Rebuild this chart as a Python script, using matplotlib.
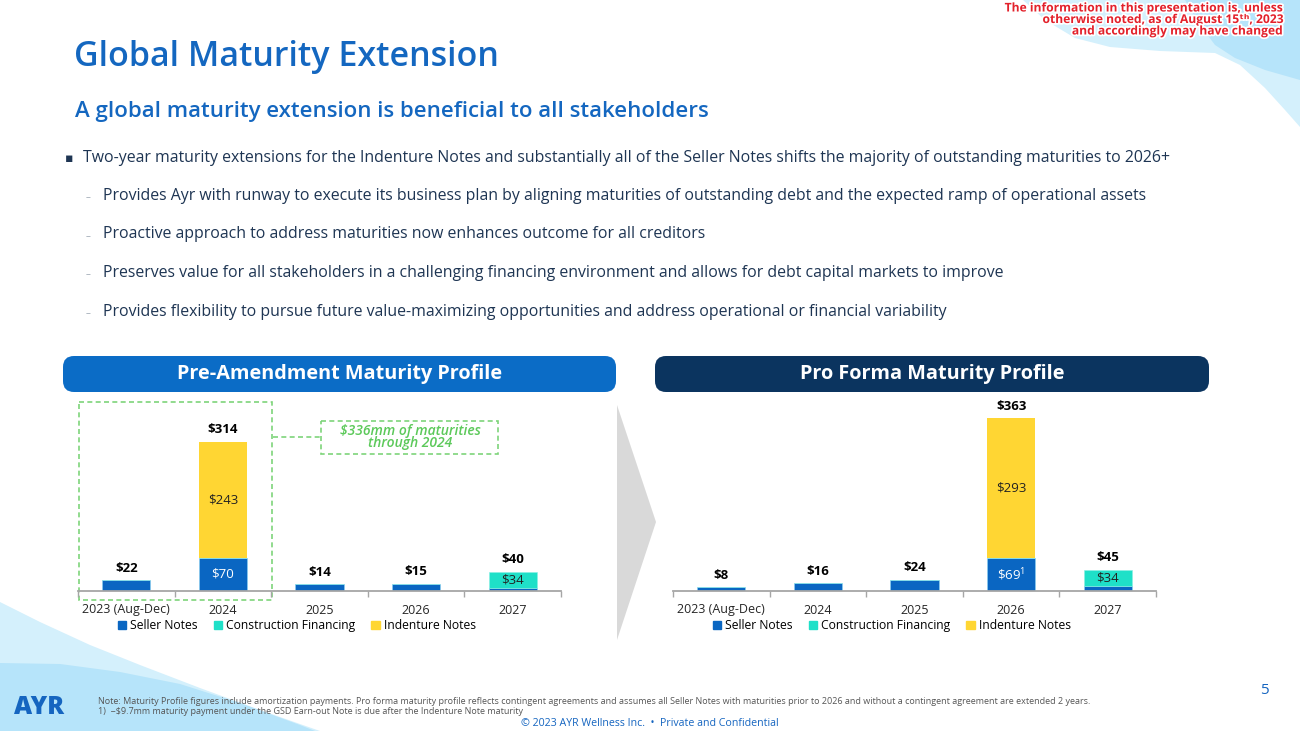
#! /usr/bin/env python3

import matplotlib
matplotlib.use("Agg")
import matplotlib.pyplot as plt
from matplotlib.patches import FancyBboxPatch, Polygon, Rectangle, Patch
import matplotlib.patheffects as pe
import numpy as np

plt.rcParams['font.family'] = ['Open Sans', 'DejaVu Sans']

# ---- data ($mm) ----
years = ['2023 (Aug-Dec)', '2024', '2025', '2026', '2027']
series_names = ['Seller Notes', 'Construction Financing', 'Indenture Notes']

pre_seller = [22, 70, 14, 15, 6]
pre_construction = [0, 0, 0, 0, 34]
pre_indenture = [0, 243, 0, 0, 0]
pre_totals = ['$22', '$314', '$14', '$15', '$40']

pf_seller = [8, 16, 24, 69, 11]
pf_construction = [0, 0, 0, 0, 34]
pf_indenture = [0, 0, 0, 293, 0]
pf_totals = ['$8', '$16', '$24', '$363', '$45']

bullets = [
    'Two-year maturity extensions for the Indenture Notes and substantially all of the Seller Notes shifts the majority of outstanding maturities to 2026+',
    'Provides Ayr with runway to execute its business plan by aligning maturities of outstanding debt and the expected ramp of operational assets',
    'Proactive approach to address maturities now enhances outcome for all creditors',
    'Preserves value for all stakeholders in a challenging financing environment and allows for debt capital markets to improve',
    'Provides flexibility to pursue future value-maximizing opportunities and address operational or financial variability',
]

BLUE = '#0A66C2'
TEAL = '#1FE0C8'
YELLOW = '#FFD633'
NAVY = '#1E3553'
TITLE_BLUE = '#1467C0'

W, H = 1300, 731
fig = plt.figure(figsize=(13, 7.31), dpi=100)
fig.patch.set_facecolor('white')

# background / decoration layer in pixel coordinates
bg = fig.add_axes([0, 0, 1, 1], zorder=0)
bg.set_xlim(0, W)
bg.set_ylim(H, 0)
bg.axis('off')

# light blue swooshes
bg.add_patch(Polygon([(1023, 0), (1045, 20), (1075, 38), (1110, 47), (1160, 51), (1215, 53),
                      (1240, 65), (1265, 88), (1285, 110), (1300, 127), (1300, 0)],
                     closed=True, facecolor='#D4F0FC', edgecolor='none'))
bg.add_patch(Polygon([(1185, 0), (1200, 25), (1215, 45), (1235, 58), (1265, 70), (1300, 80), (1300, 0)],
                     closed=True, facecolor='#B6E4FA', edgecolor='none'))
bg.add_patch(Polygon([(0, 602), (40, 622), (90, 645), (140, 665), (200, 688), (260, 710), (320, 731), (0, 731)],
                     closed=True, facecolor='#D4F0FC', edgecolor='none'))
bg.add_patch(Polygon([(0, 663), (60, 664), (120, 672), (180, 684), (240, 703), (300, 725), (315, 731), (0, 731)],
                     closed=True, facecolor='#B6E4FA', edgecolor='none'))

# top-right disclaimer
disc = ['The information in this presentation is, unless',
        'otherwise noted, as of August 15\u1d57\u02b0, 2023',
        'and accordingly may have changed']
for i, line in enumerate(disc):
    bg.text(1284, 8 + i * 11.5, line, ha='right', va='center', fontsize=8.7, fontweight='bold',
            color='#E3212B', path_effects=[pe.withStroke(linewidth=2.5, foreground='white')])

# title and subtitle
bg.text(74, 57, 'Global Maturity Extension', fontsize=24.5, color=TITLE_BLUE, va='center', ha='left',
        fontweight='semibold')
bg.text(75, 112, 'A global maturity extension is beneficial to all stakeholders', fontsize=16,
        color=TITLE_BLUE, va='center', ha='left', fontweight='semibold')

# bullets
bg.text(65, 158, '\u25aa', fontsize=9, color=NAVY, va='center', ha='left')
bg.text(83, 158, bullets[0], fontsize=11.45, color=NAVY, va='center', ha='left')
for i, b in enumerate(bullets[1:]):
    y = 196 + i * 38.5
    bg.text(86, y + 2, '\u2013', fontsize=7, color='#9AA5B1', va='center', ha='left')
    bg.text(103, y, b, fontsize=11.45, color=NAVY, va='center', ha='left')

# section headers
for x0, x1, col, txt in [(63, 616, '#0B6CC6', 'Pre-Amendment Maturity Profile'),
                         (655, 1209, '#0B345F', 'Pro Forma Maturity Profile')]:
    bg.add_patch(FancyBboxPatch((x0, 356), x1 - x0, 36,
                                boxstyle='round,pad=0,rounding_size=11',
                                facecolor=col, edgecolor='none'))
    bg.text((x0 + x1) / 2, 374, txt, ha='center', va='center', fontsize=14.3,
            fontweight='bold', color='white')

# gray chevron between the charts
bg.add_patch(Polygon([(617, 405), (656, 522), (617, 640)], closed=True,
                     facecolor='#D9D9D9', edgecolor='none'))

# dashed highlight around 2023-2024
green = '#7ED47A'
bg.add_patch(Rectangle((79, 402), 193, 198, fill=False, edgecolor=green, lw=1.2, ls=(0, (3, 2))))
bg.add_patch(Rectangle((321, 421), 177, 33, fill=False, edgecolor=green, lw=1.2, ls=(0, (3, 2))))
bg.plot([273, 321], [437, 437], color=green, lw=1.2, ls=(0, (3, 2)))
bg.text(410, 437, '$336mm of maturities\nthrough 2024', ha='center', va='center', fontsize=10,
        color='#5CC95A', style='italic', fontweight='semibold', linespacing=0.9)

# footer
bg.text(14, 707, 'AYR', fontsize=18, fontweight='heavy', color='#1565C0', va='center', ha='left')
bg.text(98, 701, 'Note: Maturity Profile figures include amortization payments. Pro forma maturity profile reflects contingent agreements and assumes all Seller Notes with maturities prior to 2026 and without a contingent agreement are extended 2 years.',
        fontsize=6.5, color='#555555', va='center', ha='left')
bg.text(98, 712, '1)  ~$9.7mm maturity payment under the GSD Earn-out Note is due after the Indenture Note maturity',
        fontsize=6.5, color='#555555', va='center', ha='left')
bg.text(650, 723, '\u00a9 2023 AYR Wellness Inc.  \u2022  Private and Confidential', fontsize=7.7,
        color='#1565C0', va='center', ha='center')
bg.text(1264, 691, '5', fontsize=11, color='#1565C0', va='center', ha='center')


def draw_chart(left_px, seller, construction, indenture, totals, inside_seller_sup=None):
    ax = fig.add_axes([left_px / W, 1 - 591 / H, 483 / W, 191 / H], zorder=2)
    ax.patch.set_alpha(0)
    x = np.arange(len(years))
    seller = np.array(seller, dtype=float)
    construction = np.array(construction, dtype=float)
    indenture = np.array(indenture, dtype=float)
    ax.bar(x, seller, width=0.5, color=BLUE, edgecolor='#8AD3F2', linewidth=0.4)
    ax.bar(x, construction, width=0.5, bottom=seller, color=TEAL, edgecolor='#8AEFE4', linewidth=0.4)
    ax.bar(x, indenture, width=0.5, bottom=seller + construction, color=YELLOW, edgecolor='none')
    top = seller + construction + indenture
    for i in x:
        ax.annotate(totals[i], (i, top[i]), xytext=(0, 4), textcoords='offset points',
                    ha='center', va='bottom', fontsize=9.5, fontweight='bold', color='black')
        if indenture[i] > 0:
            ax.text(i, seller[i] + indenture[i] / 2, '$%d' % indenture[i], ha='center', va='center',
                    fontsize=9.5, color='#222222')
            lab = '$%d' % seller[i]
            if inside_seller_sup:
                lab = r'\$%d$^{\mathregular{%s}}$' % (seller[i], inside_seller_sup)
            ax.text(i, seller[i] / 2, lab, ha='center', va='center', fontsize=9.5, color='white')
        if construction[i] > 0:
            ax.text(i, seller[i] + construction[i] / 2, '$%d' % construction[i], ha='center',
                    va='center', fontsize=9.5, color='#222222')
    ax.set_xlim(-0.5, 4.5)
    ax.set_ylim(0, 400)
    for s in ['top', 'left', 'right']:
        ax.spines[s].set_visible(False)
    ax.spines['bottom'].set_color('#A6A6A6')
    ax.spines['bottom'].set_linewidth(1.3)
    ax.set_yticks([])
    ax.set_xticks(x)
    ax.set_xticklabels(years, fontsize=9, color='#262626')
    ax.tick_params(axis='x', which='major', length=0, pad=9)
    ax.set_xticks(np.arange(-0.5, 5, 1), minor=True)
    ax.tick_params(axis='x', which='minor', length=4, color='#A6A6A6', width=1)
    handles = [Patch(color=BLUE), Patch(color=TEAL), Patch(color=YELLOW)]
    ax.legend(handles, series_names, loc='center', bbox_to_anchor=(0.453, -0.183), ncol=3,
              frameon=False, fontsize=8.7, handlelength=0.7, handleheight=0.7,
              handletextpad=0.35, columnspacing=1.3)
    return ax


draw_chart(78, pre_seller, pre_construction, pre_indenture, pre_totals)
draw_chart(673, pf_seller, pf_construction, pf_indenture, pf_totals, inside_seller_sup='1')

fig.savefig('out.png', dpi=100)
